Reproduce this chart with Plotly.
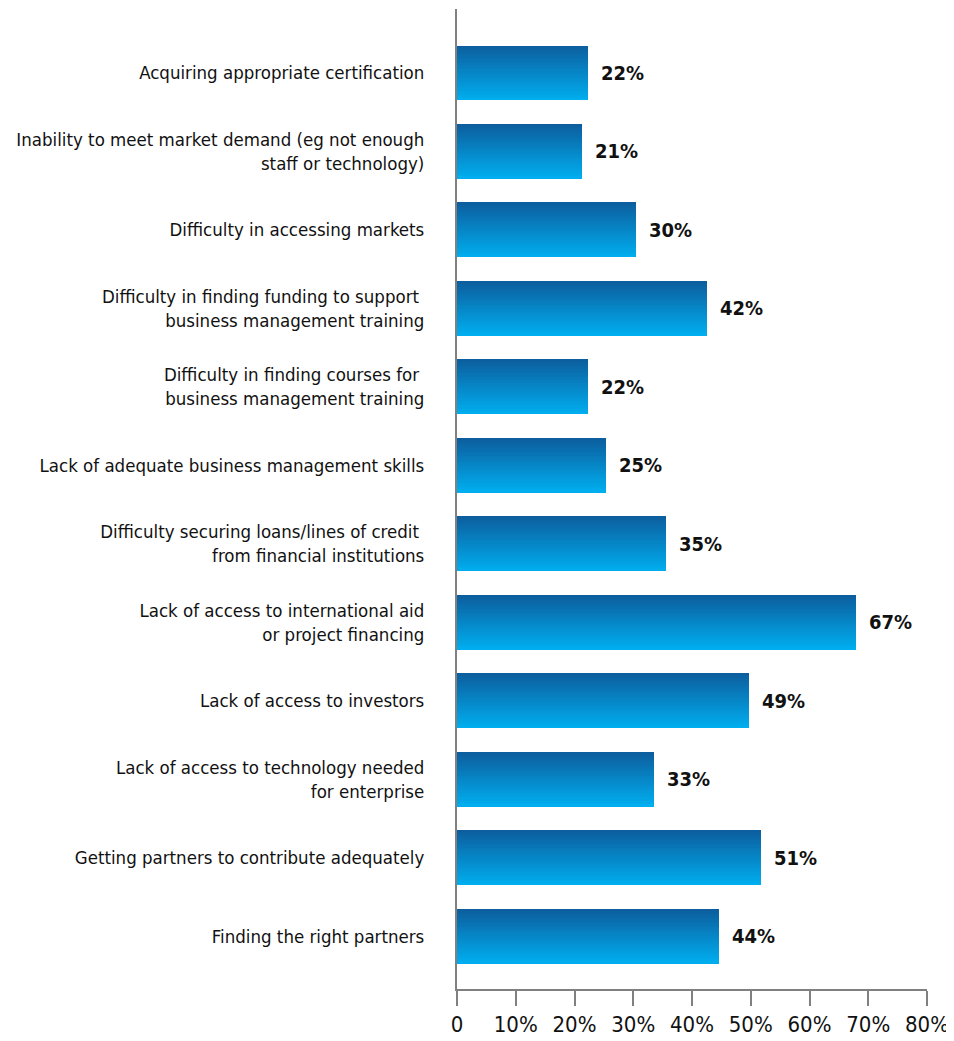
import plotly.graph_objects as go

categories = [
    "Acquiring appropriate certification",
    "Inability to meet market demand (eg not enough<br>staff or technology)",
    "Difficulty in accessing markets",
    "Difficulty in finding funding to support <br>business management training",
    "Difficulty in finding courses for <br>business management training",
    "Lack of adequate business management skills",
    "Difficulty securing loans/lines of credit <br>from financial institutions",
    "Lack of access to international aid<br>or project financing",
    "Lack of access to investors",
    "Lack of access to technology needed<br>for enterprise",
    "Getting partners to contribute adequately",
    "Finding the right partners",
]
values = [22.3, 21.3, 30.5, 42.5, 22.3, 25.4, 35.6, 67.9, 49.7, 33.5, 51.7, 44.6]
labels = ["22%", "21%", "30%", "42%", "22%", "25%", "35%", "67%", "49%", "33%", "51%", "44%"]
x_ticks = [0, 10, 20, 30, 40, 50, 60, 70, 80]
x_tick_text = ["0", "10%", "20%", "30%", "40%", "50%", "60%", "70%", "80%"]

FONT = "DejaVu Sans Condensed, sans-serif"
top_rgb = (12, 94, 158)
bot_rgb = (0, 174, 239)
N = 28
bar_w = 0.70
pos = list(range(len(categories)))

fig = go.Figure()
sw = bar_w / N
for k in range(N):
    t = k / (N - 1)
    c = tuple(round(top_rgb[i] + (bot_rgb[i] - top_rgb[i]) * t) for i in range(3))
    w = sw * 1.15 if k < N - 1 else sw
    fig.add_trace(go.Bar(
        x=values, y=pos, orientation="h",
        offset=-bar_w / 2 + k * sw, width=w,
        marker=dict(color="rgb(%d,%d,%d)" % c, line=dict(width=0)),
        hoverinfo="skip", showlegend=False,
    ))

for v, p, lab in zip(values, pos, labels):
    fig.add_annotation(x=v, y=p, text="<b>" + lab + "</b>", showarrow=False,
                       xanchor="left", xshift=11, yshift=0,
                       font=dict(family=FONT, size=20, color="#111111"))

# page body adds an 8px offset; figure sized to fill the 954x1041 window
fig.update_layout(
    width=946, height=1033,
    margin=dict(l=449, r=27, t=1, b=52, autoexpand=False),
    plot_bgcolor="white", paper_bgcolor="white",
    barmode="overlay", bargap=0,
    font=dict(family=FONT, size=18.5, color="#111111"),
    xaxis=dict(range=[0, 80], tickvals=x_ticks, ticktext=x_tick_text, automargin=False,
               showgrid=False, zeroline=False, showline=True, linecolor="#808080", linewidth=2,
               ticks="outside", ticklen=15, tickwidth=2, tickcolor="#808080",
               tickfont=dict(family=FONT, size=22, color="#111111")),
    yaxis=dict(range=[11.67, -0.815], tickvals=pos, ticktext=categories, automargin=False,
               showgrid=False, zeroline=False, showline=True, linecolor="#808080", linewidth=2,
               ticks="", ticklabelstandoff=27,
               tickfont=dict(family=FONT, size=18.5, color="#111111")),
)

fig.write_html("out.html")
